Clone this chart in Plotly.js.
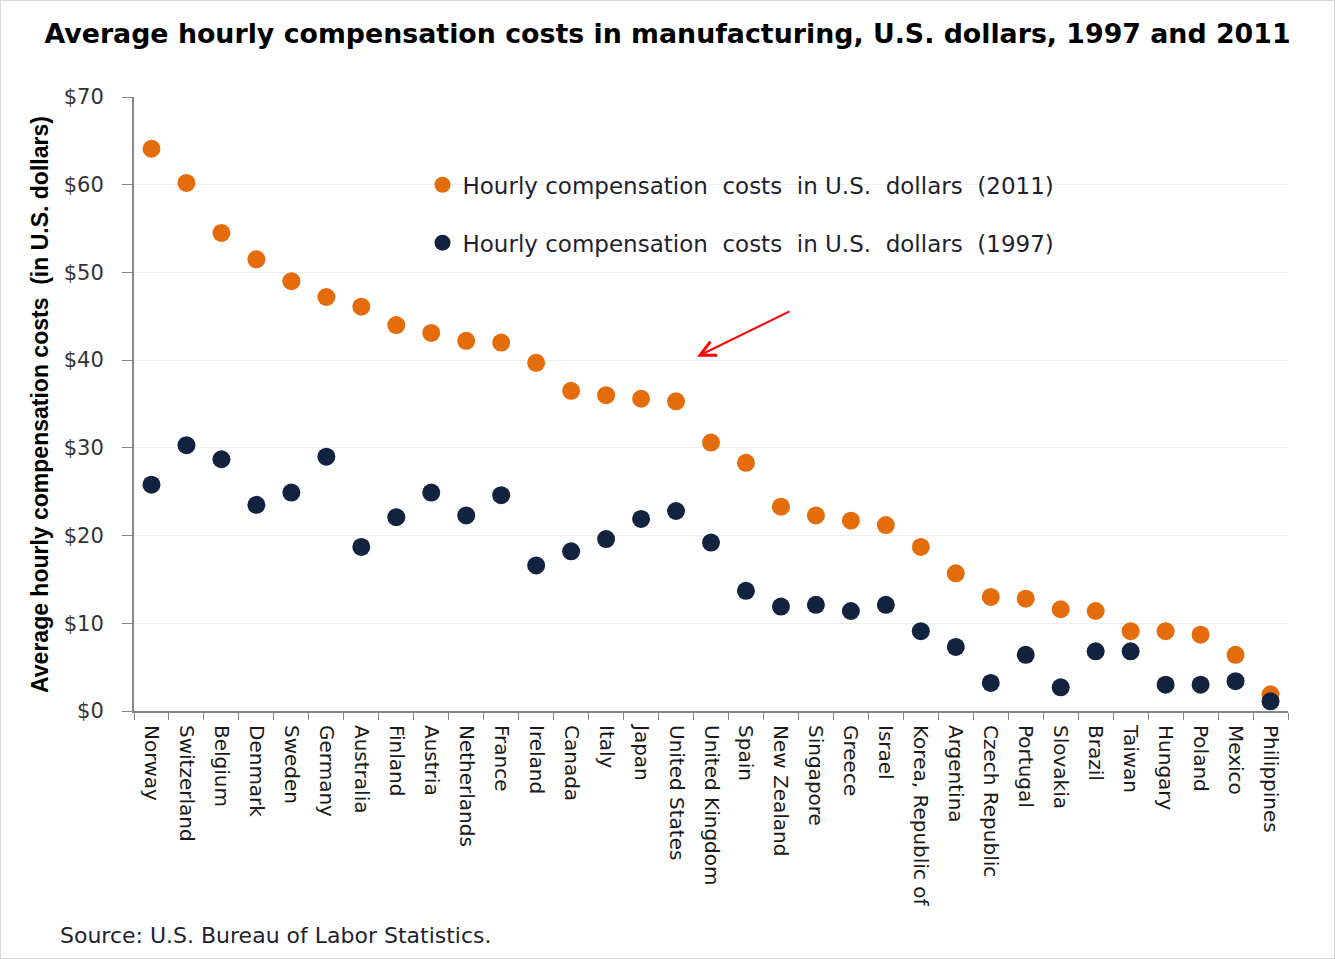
<!DOCTYPE html>
<html>
<head>
<meta charset="utf-8">
<script src="https://cdn.plot.ly/plotly-3.0.1.min.js"></script>
<style>
    body { margin: 0; background: #fff; }
    #chart { width: 1333px; height: 957px; border: 1px solid #d9d9d9; }
</style>
</head>
<body>
<div id="chart"></div>
<script>
// ---------- Data ---------- //
const countries = [
    "Norway", "Switzerland", "Belgium", "Denmark", "Sweden", "Germany", "Australia",
    "Finland", "Austria", "Netherlands", "France", "Ireland", "Canada", "Italy", "Japan",
    "United States", "United Kingdom", "Spain", "New Zealand", "Singapore", "Greece",
    "Israel", "Korea, Republic of", "Argentina", "Czech Republic", "Portugal", "Slovakia",
    "Brazil", "Taiwan", "Hungary", "Poland", "Mexico", "Philippines"
];

const costs2011 = [
    64.1, 60.2, 54.5, 51.5, 49.0, 47.2, 46.1, 44.0, 43.1, 42.2, 42.0, 39.7, 36.5, 36.0,
    35.6, 35.3, 30.6, 28.3, 23.3, 22.3, 21.7, 21.2, 18.7, 15.7, 13.0, 12.8, 11.6, 11.4,
    9.1, 9.1, 8.7, 6.4, 1.9
];

const costs1997 = [
    25.8, 30.3, 28.7, 23.5, 24.9, 29.0, 18.7, 22.1, 24.9, 22.3, 24.6, 16.6, 18.2, 19.6,
    21.9, 22.8, 19.2, 13.7, 11.9, 12.1, 11.4, 12.1, 9.1, 7.3, 3.2, 6.4, 2.7, 6.8,
    6.8, 3.0, 3.0, 3.4, 1.1
];

const yTicks = [0, 10, 20, 30, 40, 50, 60, 70];
const yTickText = yTicks.map(v => '&#36;' + v);

// ---------- Traces ---------- //
const trace2011 = {
    x: countries,
    y: costs2011,
    type: 'scatter',
    mode: 'markers',
    name: 'Hourly compensation  costs  in U.S.  dollars  (2011)',
    legendgroup: 'a',
    marker: { color: '#E46C0A', size: 18 },
    hoverinfo: 'x+y'
};

const trace1997 = {
    x: countries,
    y: costs1997,
    type: 'scatter',
    mode: 'markers',
    name: 'Hourly compensation  costs  in U.S.  dollars  (1997)',
    legendgroup: 'b',
    marker: { color: '#12233F', size: 18 },
    hoverinfo: 'x+y'
};

// ---------- Layout ---------- //
const baseFont = 'DejaVu Sans, Verdana, sans-serif';

const layout = {
    width: 1333,
    height: 957,
    paper_bgcolor: '#ffffff',
    plot_bgcolor: '#ffffff',
    margin: { l: 133, r: 46, t: 96, b: 247 },
    title: {
        text: 'Average hourly compensation costs in manufacturing, U.S. dollars, 1997 and 2011',
        font: { family: baseFont, size: 26.8, color: '#000000', weight: 'bold' },
        x: 0.5,
        xanchor: 'center',
        y: 0.966,
        yanchor: 'middle'
    },
    showlegend: true,
    legend: {
        x: 0.25,
        y: 0.892,
        xanchor: 'left',
        yanchor: 'top',
        bgcolor: 'rgba(0,0,0,0)',
        traceorder: 'grouped',
        tracegroupgap: 25,
        itemwidth: 30,
        font: { family: baseFont, size: 23, color: '#1f1f2e' }
    },
    xaxis: {
        type: 'category',
        range: [-0.5, countries.length - 0.5],
        tickangle: 90,
        tickson: 'boundaries',
        ticks: 'outside',
        ticklen: 7,
        tickcolor: '#868686',
        showline: true,
        linecolor: '#868686',
        linewidth: 2,
        showgrid: false,
        ticklabelstandoff: 8,
        tickfont: { family: baseFont, size: 20, color: '#1a1a1a' },
        fixedrange: true
    },
    yaxis: {
        range: [0, 70],
        tickmode: 'array',
        tickvals: yTicks,
        ticktext: yTickText,
        ticks: 'outside',
        ticklen: 10,
        tickcolor: '#868686',
        showline: true,
        linecolor: '#868686',
        linewidth: 2,
        showgrid: true,
        gridcolor: '#eeeeee',
        gridwidth: 1,
        zeroline: false,
        ticklabelstandoff: 14,
        tickfont: { family: baseFont, size: 21, color: '#333333' },
        automargin: false,
        fixedrange: true
    },
    shapes: [
        {   // white backing of the legend box, hides the $60 gridline there
            type: 'rect',
            xref: 'paper', yref: 'paper',
            x0: 0.161, x1: 0.904, y0: 0.80, y1: 0.95,
            fillcolor: '#ffffff',
            line: { width: 0 },
            layer: 'between'
        }
    ],
    annotations: [
        {   // y-axis title
            text: 'Average hourly compensation costs  (in U.S. dollars)',
            xref: 'paper', yref: 'paper',
            x: -0.0815, y: 0.5,
            xanchor: 'center', yanchor: 'middle',
            textangle: -90,
            showarrow: false,
            font: { family: 'Liberation Sans, Arial, sans-serif', size: 23, color: '#000000', weight: 'bold' }
        },
        {   // red pointer arrow
            text: '',
            x: 15.6, y: 40.4,
            xref: 'x', yref: 'y',
            ax: 94, ay: -46,
            showarrow: true,
            arrowhead: 5,
            arrowsize: 1.5,
            arrowwidth: 2,
            arrowcolor: '#ff0000',
            standoff: 0
        },
        {   // source note
            text: 'Source: U.S. Bureau of Labor Statistics.',
            xref: 'paper', yref: 'paper',
            x: -0.066, y: -0.365,
            xanchor: 'left', yanchor: 'middle',
            showarrow: false,
            font: { family: baseFont, size: 22, color: '#1f1f2e' }
        }
    ]
};

const config = { displayModeBar: false, responsive: false };

Plotly.newPlot('chart', [trace2011, trace1997], layout, config);
</script>
</body>
</html>
